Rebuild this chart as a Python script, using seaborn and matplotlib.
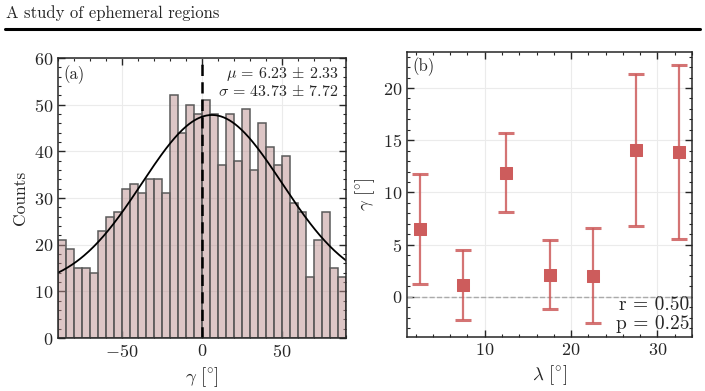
import numpy as np
import pandas as pd
import matplotlib
matplotlib.use("Agg")
import matplotlib.pyplot as plt
import seaborn as sns
from matplotlib.ticker import AutoMinorLocator

# histogram of tilt angles (5 degree bins from -90 to 90)
bin_edges = list(range(-90, 95, 5))
bin_centers = [e + 2.5 for e in bin_edges[:-1]]
counts = [21, 19, 15, 15, 14, 23, 26, 27, 32, 33, 31, 34, 34, 31, 52, 44, 50, 48,
          51, 48, 37, 48, 38, 49, 36, 46, 41, 37, 39, 29, 27, 13, 21, 27, 15, 13]

# gaussian fit parameters
fit_mu = 6.23
fit_sigma = 43.73
fit_amp = 37.1
fit_offset = 10.7

# binned gamma vs lambda
lam = [2.5, 7.5, 12.5, 17.5, 22.5, 27.5, 32.5]
gamma_mean = [6.5, 1.1, 11.9, 2.1, 2.0, 14.05, 13.85]
gamma_err = [5.3, 3.35, 3.8, 3.3, 4.55, 7.25, 8.35]

sns.set_style("ticks")
plt.rcParams["font.family"] = ["serif"]
plt.rcParams["font.serif"] = ["cmr10", "DejaVu Serif"]
plt.rcParams["mathtext.fontset"] = "cm"
plt.rcParams["axes.formatter.use_mathtext"] = True
plt.rcParams["axes.unicode_minus"] = True

fig = plt.figure(figsize=(7.05, 3.91), dpi=100)
ax1 = fig.add_axes([0.0823, 0.1355, 0.4085, 0.716])
ax2 = fig.add_axes([0.5773, 0.1381, 0.4043, 0.7289])

# title with rule under it
fig.text(0.008, 0.966, "A study of ephemeral regions", fontsize=12, ha="left", va="center")
fig.add_artist(plt.Line2D([0.007, 0.993], [0.926, 0.926], color="black", lw=2.2,
                          transform=fig.transFigure))

# (a) histogram
hist_df = pd.DataFrame({"gamma": bin_centers, "count": counts})
sns.histplot(data=hist_df, x="gamma", weights="count", bins=bin_edges, ax=ax1,
             color="#bc8f8f", alpha=0.5, edgecolor="#5a5a5a", linewidth=1.1)
xs = np.linspace(-90, 90, 300)
ys = fit_amp * np.exp(-(xs - fit_mu) ** 2 / (2 * fit_sigma ** 2)) + fit_offset
ax1.plot(xs, ys, color="black", lw=1.3)
ax1.axvline(0, color="black", ls="--", lw=1.8, dashes=(4.5, 2.5))
ax1.set_xlim(-90, 90)
ax1.set_ylim(0, 60)
ax1.set_xticks([-50, 0, 50])
ax1.set_xlabel(r"$\gamma\ [^{\circ}]$", fontsize=13.5)
ax1.set_ylabel("Counts", fontsize=12.5)
ax1.text(0.02, 0.975, "(a)", transform=ax1.transAxes, ha="left", va="top", fontsize=12)
ax1.text(0.975, 0.975,
         r"$\mu\,=\,6.23\,\pm\,2.33$" + "\n" + r"$\sigma\,=\,43.73\,\pm\,7.72$",
         transform=ax1.transAxes, ha="right", va="top", fontsize=11.5, linespacing=1.05)

# (b) gamma vs lambda
ax2.axhline(0, color="#aaaaaa", ls="--", lw=1.0)
ax2.errorbar(lam, gamma_mean, yerr=gamma_err, fmt="none", ecolor="#cd5c5c",
             elinewidth=1.6, capsize=6, capthick=2.2, alpha=0.85)
sns.scatterplot(x=lam, y=gamma_mean, ax=ax2, marker="s", s=85, color="#cd5c5c",
                edgecolor="#cd5c5c", zorder=3)
ax2.set_xlim(1, 34)
ax2.set_ylim(-3.85, 23.45)
ax2.set_xticks([10, 20, 30])
ax2.set_yticks([0, 5, 10, 15, 20])
ax2.set_xlabel(r"$\lambda\ [^{\circ}]$", fontsize=13.5)
ax2.set_ylabel(r"$\gamma\ [^{\circ}]$", fontsize=13.5)
ax2.text(0.02, 0.98, "(b)", transform=ax2.transAxes, ha="left", va="top", fontsize=12)
ax2.text(0.99, 0.015, "r = 0.50\np = 0.25", transform=ax2.transAxes, ha="right",
         va="bottom", fontsize=14, linespacing=1.05)

for ax in (ax1, ax2):
    ax.grid(True, color="#ebebeb", lw=0.8)
    ax.set_axisbelow(True)
    ax.xaxis.set_minor_locator(AutoMinorLocator())
    ax.yaxis.set_minor_locator(AutoMinorLocator())
    ax.tick_params(which="both", direction="in", top=True, right=True, labelsize=13)
    ax.tick_params(which="major", length=5, width=1.0)
    ax.tick_params(which="minor", length=2.5, width=0.8)
    for sp in ax.spines.values():
        sp.set_linewidth(1.1)

fig.savefig("out.png", dpi=100)
